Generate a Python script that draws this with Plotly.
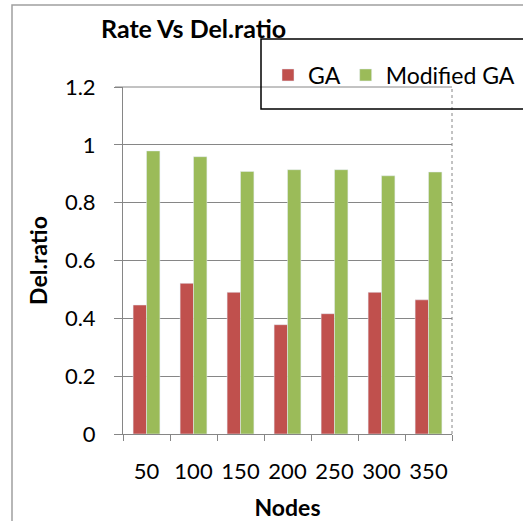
import plotly.graph_objects as go

nodes = ["50", "100", "150", "200", "250", "300", "350"]
ga = [0.446, 0.521, 0.490, 0.378, 0.416, 0.490, 0.464]
modified_ga = [0.979, 0.959, 0.908, 0.914, 0.914, 0.893, 0.906]
y_ticks = [0, 0.2, 0.4, 0.6, 0.8, 1, 1.2]
y_tick_labels = ["0", "0.2", "0.4", "0.6", "0.8", "1", "1.2"]

FONT = "Lato"
GRID = "#868686"

L, R, T, B = 123, 71, 87, 87
PW, PH = 523 - L - R, 521 - T - B


def px_x(px):
    return (px - L) / PW


def px_y(py):
    return (521 - B - py) / PH


fig = go.Figure()
fig.add_trace(go.Bar(x=nodes, y=ga, name="GA", marker_color="#C0504D"))
fig.add_trace(go.Bar(x=nodes, y=modified_ga, name="Modified GA", marker_color="#9BBB59"))

fig.update_layout(
    width=523, height=521,
    margin=dict(l=L, r=R, t=T, b=B, autoexpand=False),
    paper_bgcolor="white", plot_bgcolor="white",
    barmode="group", bargap=0.43, bargroupgap=0,
    font=dict(family=FONT, size=22, color="black"),
    title=dict(text="<b>Rate Vs Del.ratio</b>", font=dict(family=FONT, size=25),
               x=101 / 523, xanchor="left", y=1 - 29 / 521, yanchor="middle"),
    legend=dict(orientation="h", x=px_x(268), xanchor="left", y=px_y(75), yanchor="middle",
                bgcolor="rgba(0,0,0,0)", font=dict(family=FONT, size=23),
                itemclick=False),
    showlegend=True,
)
fig.update_xaxes(
    type="category", showgrid=False, showline=True, linecolor=GRID, linewidth=1,
    ticks="outside", tickson="boundaries", ticklen=6, tickcolor=GRID,
    tickangle=0, ticklabelstandoff=18,
    title=dict(text="<b>Nodes</b>", font=dict(family=FONT, size=23), standoff=16),
)
fig.update_yaxes(
    range=[0, 1.2], tickvals=y_ticks, ticktext=y_tick_labels,
    showgrid=True, gridcolor=GRID, gridwidth=1, zeroline=False,
    showline=True, linecolor=GRID, linewidth=1,
    ticks="outside", ticklen=8, tickcolor=GRID, ticklabelstandoff=14,
    title=dict(text="<b>Del.ratio</b>", font=dict(family=FONT, size=23), standoff=10),
)

# top gridline at 1.2 and plot-area right border (dotted)
fig.add_shape(type="line", xref="paper", yref="paper", x0=px_x(115), x1=1, y0=1, y1=1,
              line=dict(color=GRID, width=1))
fig.add_shape(type="line", xref="paper", yref="paper", x0=1, x1=1, y0=0, y1=1,
              line=dict(color=GRID, width=1, dash="dot"))
# outer chart frame
fig.add_shape(type="rect", xref="paper", yref="paper",
              x0=px_x(12), x1=px_x(560), y0=px_y(560), y1=px_y(5),
              line=dict(color="#A0A0A0", width=1.5), layer="below")
# legend box
fig.add_shape(type="rect", xref="paper", yref="paper",
              x0=px_x(261), x1=px_x(560), y0=px_y(109), y1=px_y(39),
              line=dict(color="black", width=1.5))

fig.write_html("out.html", config={"displayModeBar": False})

with open("out.html", encoding="utf-8") as f:
    html = f.read()
html = html.replace("<body>", '<body style="margin:0;overflow:hidden">', 1)
with open("out.html", "w", encoding="utf-8") as f:
    f.write(html)
